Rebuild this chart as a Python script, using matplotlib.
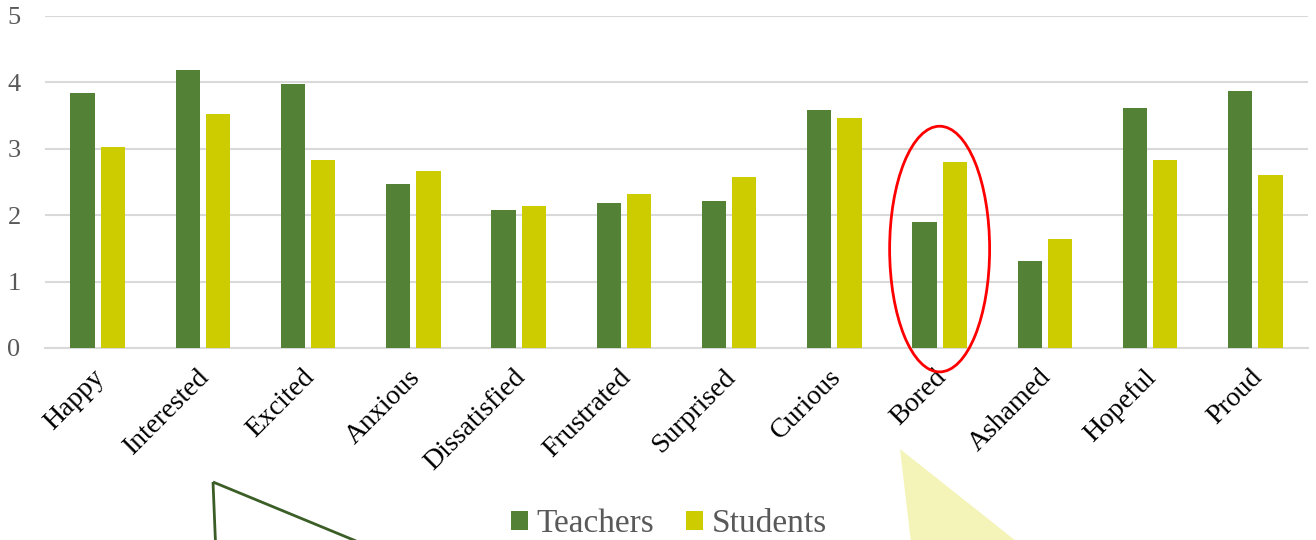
import numpy as np
import matplotlib
matplotlib.use('Agg')
import matplotlib.pyplot as plt
from matplotlib.patches import Ellipse, Polygon

emotions = ['Happy', 'Interested', 'Excited', 'Anxious', 'Dissatisfied', 'Frustrated',
            'Surprised', 'Curious', 'Bored', 'Ashamed', 'Hopeful', 'Proud']
teachers = [3.84, 4.19, 3.98, 2.47, 2.08, 2.18, 2.21, 3.58, 1.90, 1.31, 3.61, 3.87]
students = [3.03, 3.52, 2.83, 2.67, 2.14, 2.32, 2.58, 3.46, 2.80, 1.64, 2.83, 2.61]
yticks = [0, 1, 2, 3, 4, 5]

green = '#538135'
yellow = '#cccc00'
grey_txt = '#595959'
serif = ['Liberation Serif', 'DejaVu Serif']

fig = plt.figure(figsize=(13.16, 5.4), dpi=100)
ax = fig.add_axes([45/1316, 1-348/540, 1263/1316, 332/540])

x = np.arange(len(emotions))
w = 0.23
ax.bar(x - 0.143, teachers, w, color=green, label='Teachers', zorder=3)
ax.bar(x + 0.143, students, w, color=yellow, label='Students', zorder=3)

ax.set_xlim(-0.5, len(emotions) - 0.5)
ax.set_ylim(0, 5)
ax.set_yticks(yticks)
ax.set_yticklabels([str(v) for v in yticks], fontsize=19, color=grey_txt, family=serif)
ax.yaxis.grid(True, color='#d9d9d9', linewidth=1.5, zorder=0)
ax.tick_params(axis='y', length=0, pad=27)
for lab in ax.get_yticklabels():
    lab.set_horizontalalignment('left')
ax.set_xticks(x)
ax.set_xticklabels(emotions, rotation=45, ha='right', rotation_mode='anchor',
                   fontsize=20, color='black', family=serif)
ax.tick_params(axis='x', length=0, pad=12)
offset = matplotlib.transforms.ScaledTranslation(-6/100, 0, fig.dpi_scale_trans)
for lab in ax.get_xticklabels():
    lab.set_transform(lab.get_transform() + offset)
for s in ['top', 'right', 'left']:
    ax.spines[s].set_visible(False)
ax.spines['bottom'].set_color('#d9d9d9')
ax.spines['bottom'].set_linewidth(1.5)

# red ellipse round Bored
ax.add_patch(Ellipse((8, 1.49), 0.95, 3.7, fill=False, edgecolor='red',
                     linewidth=2, clip_on=False, zorder=5))

# callout shapes at bottom (figure pixels, y from top)
def fp(px, py):
    return (px / 1316, 1 - py / 540)

fig.patches.append(Polygon([fp(213, 482), fp(390, 555), fp(216, 555)], closed=True,
                           fill=False, edgecolor='#3b5e27', linewidth=2,
                           transform=fig.transFigure, figure=fig))
fig.patches.append(Polygon([fp(900, 449), fp(1040, 560), fp(913, 560)], closed=True,
                           facecolor='#f4f4b8', edgecolor='none',
                           transform=fig.transFigure, figure=fig))

leg = fig.legend(loc='center', bbox_to_anchor=(669/1316, 1 - 524/540), ncol=2,
                 frameon=False, prop={'family': serif, 'size': 24},
                 handlelength=0.52, handleheight=0.52, handletextpad=0.25,
                 columnspacing=0.95)
for t in leg.get_texts():
    t.set_color(grey_txt)

fig.savefig('out.png', dpi=100)
